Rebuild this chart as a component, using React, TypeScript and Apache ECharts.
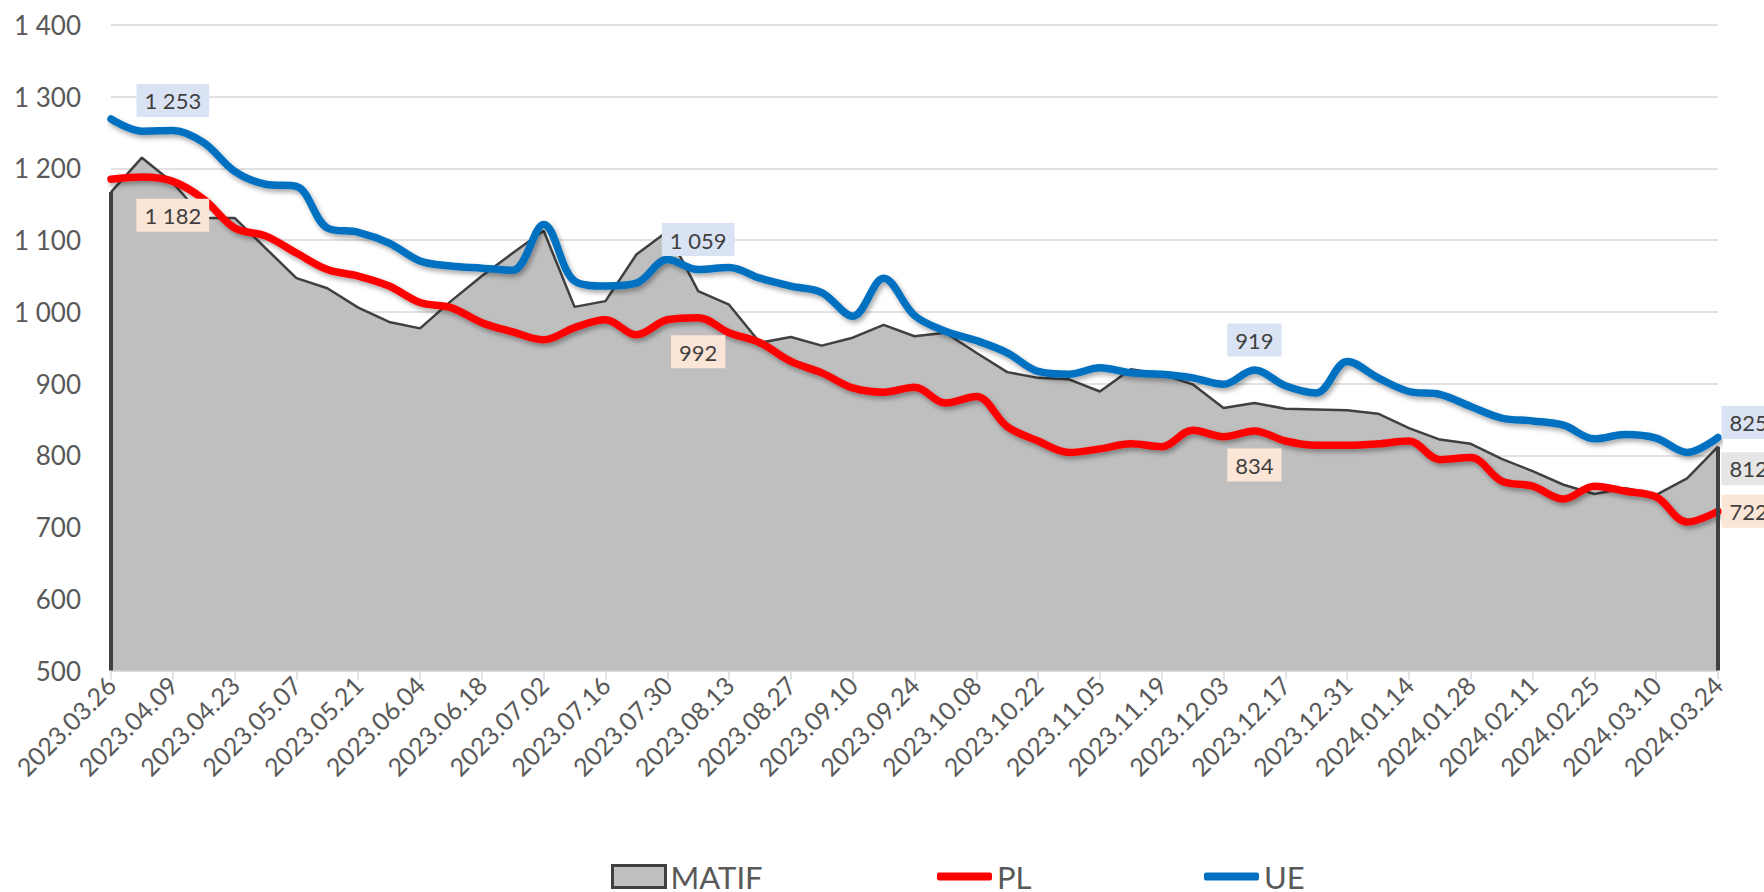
import React, { useEffect, useRef } from "react";
import * as echarts from "echarts";

const dates = [
  "2023.03.26", "2023.04.02", "2023.04.09", "2023.04.16", "2023.04.23", "2023.04.30",
  "2023.05.07", "2023.05.14", "2023.05.21", "2023.05.28", "2023.06.04", "2023.06.11",
  "2023.06.18", "2023.06.25", "2023.07.02", "2023.07.09", "2023.07.16", "2023.07.23",
  "2023.07.30", "2023.08.06", "2023.08.13", "2023.08.20", "2023.08.27", "2023.09.03",
  "2023.09.10", "2023.09.17", "2023.09.24", "2023.10.01", "2023.10.08", "2023.10.15",
  "2023.10.22", "2023.10.29", "2023.11.05", "2023.11.12", "2023.11.19", "2023.11.26",
  "2023.12.03", "2023.12.10", "2023.12.17", "2023.12.24", "2023.12.31", "2024.01.07",
  "2024.01.14", "2024.01.21", "2024.01.28", "2024.02.04", "2024.02.11", "2024.02.18",
  "2024.02.25", "2024.03.03", "2024.03.10", "2024.03.17", "2024.03.24",
];

const matif = [
  1167, 1215, 1180, 1131, 1131, 1089, 1047, 1033, 1006, 986, 977, 1015, 1050, 1082,
  1113, 1007, 1015, 1080, 1112, 1029, 1010, 957, 965, 953, 964, 982, 966, 971, 943,
  916, 908, 906, 889, 920, 913, 899, 866, 873, 865, 864, 863, 858, 838, 822, 816, 795,
  778, 759, 746, 754, 745, 768, 812,
];

const pl = [
  1185, 1188, 1182, 1157, 1117, 1106, 1082, 1059, 1050, 1036, 1013, 1006, 985, 972,
  961, 978, 989, 968, 989, 992, 971, 957, 931, 915, 894, 888, 895, 873, 882, 840, 820,
  804, 809, 816, 812, 835, 826, 834, 820, 814, 814, 816, 820, 794, 797, 764, 757, 739,
  757, 750, 742, 707, 722,
];

const ue = [
  1269, 1252, 1253, 1236, 1196, 1178, 1175, 1117, 1111, 1096, 1071, 1064, 1061, 1058,
  1122, 1043, 1036, 1040, 1073, 1059, 1062, 1047, 1036, 1027, 994, 1047, 995, 973, 960,
  943, 917, 913, 922, 915, 913, 908, 899, 919, 897, 887, 931, 908, 889, 885, 868, 852,
  848, 842, 823, 829, 824, 804, 825,
];

const labelledPoints = [2, 19, 37, 52];
const matifLabelled = [52];

const Y_MIN = 500;
const Y_MAX = 1400;
const Y_STEP = 100;

const FONT = "Lato, 'Open Sans', sans-serif";

const fmt = (v: number) =>
  String(Math.round(v)).replace(/\B(?=(\d{3})+(?!\d))/g, " ");

const labelBase = {
  show: true,
  color: "#404040",
  fontFamily: FONT,
  fontSize: 22,
  padding: [6, 8, 5, 8],
  formatter: (p: any) => fmt(p.value),
};

export default function App() {
  const ref = useRef<HTMLDivElement>(null);

  useEffect(() => {
    if (!ref.current) return;
    const chart = echarts.init(ref.current, null, { renderer: "svg" });
    const last = dates.length - 1;

    const ueData = ue.map((v, i) => {
      if (!labelledPoints.includes(i)) return v;
      const isLast = i === last;
      return {
        value: v,
        label: {
          ...labelBase,
          backgroundColor: "#dae3f3",
          position: isLast ? "right" : "top",
          distance: isLast ? 3 : 13,
          offset: isLast ? [0, -15] : [0, 0],
        },
      };
    });

    const plData = pl.map((v, i) => {
      if (!labelledPoints.includes(i)) return v;
      const isLast = i === last;
      return {
        value: v,
        label: {
          ...labelBase,
          backgroundColor: "#fbe5d6",
          position: isLast ? "right" : "bottom",
          distance: isLast ? 3 : 17,
        },
      };
    });

    const matifData = matif.map((v, i) => {
      if (!matifLabelled.includes(i)) return v;
      return {
        value: v,
        label: {
          ...labelBase,
          backgroundColor: "#e7e6e6",
          position: "right",
          distance: 3,
          offset: [0, 22],
        },
      };
    });

    const shadow = {
      shadowColor: "rgba(0,0,0,0.35)",
      shadowBlur: 5,
      shadowOffsetX: 2,
      shadowOffsetY: 3,
    };

    const legendCommon = {
      orient: "horizontal",
      top: 861,
      padding: 0,
      selectedMode: false,
      textStyle: { color: "#595959", fontFamily: FONT, fontSize: 31 },
    };

    chart.setOption({
      animation: false,
      backgroundColor: "#ffffff",
      textStyle: { fontFamily: FONT },
      grid: { left: 111, right: 46, top: 25, bottom: 221.5, containLabel: false },
      legend: [
        {
          ...legendCommon,
          left: 611,
          itemWidth: 53,
          itemHeight: 22,
          data: [
            {
              name: "MATIF",
              icon: "rect",
              itemStyle: { color: "#bfbfbf", borderColor: "#404040", borderWidth: 3 },
            },
          ],
        },
        {
          ...legendCommon,
          left: 937,
          itemWidth: 55,
          itemHeight: 8,
          data: [{ name: "PL", icon: "roundRect", itemStyle: { color: "#ff0000" } }],
        },
        {
          ...legendCommon,
          left: 1204,
          itemWidth: 55,
          itemHeight: 8,
          data: [{ name: "UE", icon: "roundRect", itemStyle: { color: "#0070c0" } }],
        },
      ],
      xAxis: {
        type: "category",
        data: dates,
        boundaryGap: false,
        axisLine: { show: true, lineStyle: { color: "#d9d9d9", width: 1.5 } },
        axisTick: { show: true, interval: 1, length: 9, lineStyle: { color: "#d9d9d9", width: 1.5 } },
        axisLabel: {
          interval: 1,
          rotate: 45,
          margin: 10,
          color: "#595959",
          fontFamily: FONT,
          fontSize: 25,
        },
        splitLine: { show: false },
      },
      yAxis: {
        type: "value",
        min: Y_MIN,
        max: Y_MAX,
        interval: Y_STEP,
        axisLine: { show: false },
        axisTick: { show: false },
        axisLabel: {
          margin: 30,
          color: "#595959",
          fontFamily: FONT,
          fontSize: 26,
          formatter: (v: number) => fmt(v),
        },
        splitLine: { show: true, lineStyle: { color: "#d9d9d9", width: 1.5 } },
      },
      series: [
        {
          name: "MATIF",
          type: "line",
          data: matifData,
          symbol: "circle",
          symbolSize: 1,
          showSymbol: true,
          smooth: false,
          z: 1,
          lineStyle: { color: "#404040", width: 2.5 },
          itemStyle: { color: "#404040" },
          areaStyle: { color: "#bfbfbf", opacity: 1, origin: "start" },
          emphasis: { disabled: true },
          markLine: {
            silent: true,
            symbol: ["none", "none"],
            label: { show: false },
            lineStyle: { color: "#404040", width: 4, type: "solid" },
            data: [
              [{ coord: [dates[0], Y_MIN] }, { coord: [dates[0], matif[0]] }],
              [{ coord: [dates[last], Y_MIN] }, { coord: [dates[last], matif[last]] }],
            ],
          },
        },
        {
          name: "PL",
          type: "line",
          data: plData,
          symbol: "circle",
          symbolSize: 1,
          showSymbol: true,
          smooth: 0.35,
          z: 2,
          lineStyle: { color: "#ff0000", width: 7.5, cap: "round", ...shadow },
          itemStyle: { color: "#ff0000" },
          emphasis: { disabled: true },
        },
        {
          name: "UE",
          type: "line",
          data: ueData,
          symbol: "circle",
          symbolSize: 1,
          showSymbol: true,
          smooth: 0.35,
          z: 3,
          lineStyle: { color: "#0070c0", width: 7.5, cap: "round", ...shadow },
          itemStyle: { color: "#0070c0" },
          emphasis: { disabled: true },
        },
      ],
    });

    return () => chart.dispose();
  }, []);

  return (
    <div
      ref={ref}
      style={{ position: "absolute", left: 0, top: 0, width: 1764, height: 892 }}
    />
  );
}
